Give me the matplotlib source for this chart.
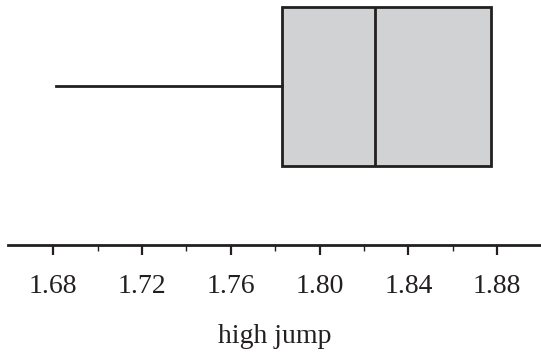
import matplotlib
matplotlib.use("Agg")
import matplotlib.pyplot as plt

# five-number summary
low = 1.681
q1 = 1.783
median = 1.825
q3 = 1.877
high = 1.877

tick_values = [1.68, 1.72, 1.76, 1.80, 1.84, 1.88]
tick_labels = ["1.68", "1.72", "1.76", "1.80", "1.84", "1.88"]
minor_values = [1.70, 1.74, 1.78, 1.82, 1.86]

plt.rcParams['font.family'] = ['Liberation Serif', 'DejaVu Serif']

fig = plt.figure(figsize=(5.41, 3.56), dpi=100)
ax = fig.add_axes([8 / 541, 111 / 356, 533 / 541, 245 / 356])

stats = [{"whislo": low, "q1": q1, "med": median, "q3": q3, "whishi": high}]
dark = "#231f20"
ax.bxp(stats, positions=[0], widths=1.0, orientation="horizontal",
       showcaps=False, showfliers=False, patch_artist=True,
       boxprops=dict(facecolor="#d1d2d4", edgecolor=dark, linewidth=2.0),
       medianprops=dict(color=dark, linewidth=2.0),
       whiskerprops=dict(color=dark, linewidth=2.0))

ax.set_xlim(1.6596, 1.8997)
ax.set_ylim(-1.0, 0.544)

for s in ["top", "left", "right"]:
    ax.spines[s].set_visible(False)
ax.spines["bottom"].set_linewidth(2.0)
ax.spines["bottom"].set_color(dark)

ax.set_yticks([])
ax.set_xticks(tick_values)
ax.set_xticklabels(tick_labels)
ax.set_xticks(minor_values, minor=True)
ax.tick_params(axis="x", which="major", length=7, width=1.6, color=dark,
               labelsize=20, pad=14, labelcolor=dark)
ax.tick_params(axis="x", which="minor", length=4.5, width=1.0, color=dark)

ax.set_xlabel("high jump", fontsize=20, color=dark, labelpad=18)

fig.savefig("out.png", dpi=100)
